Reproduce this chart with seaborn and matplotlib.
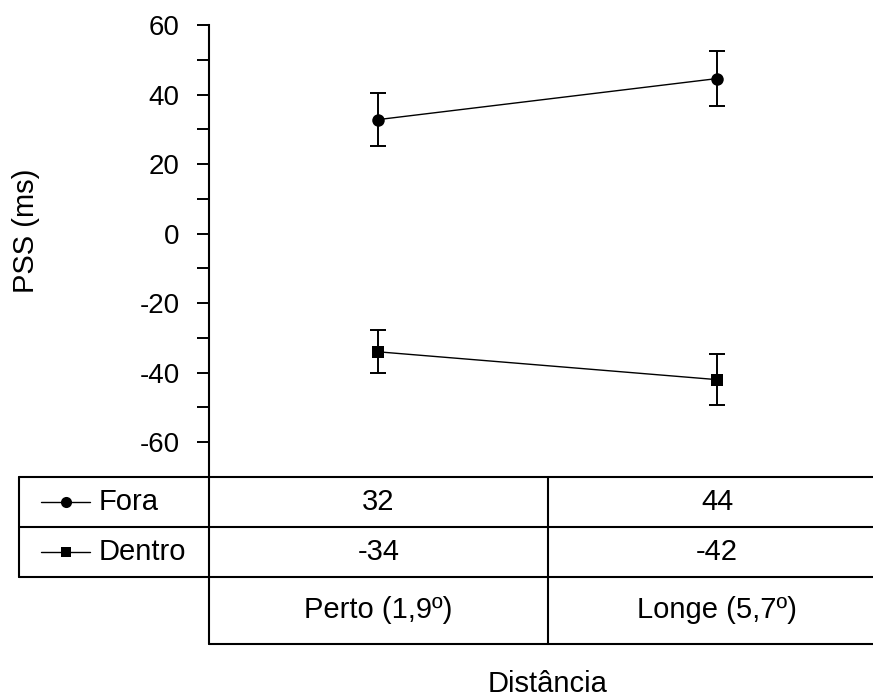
import numpy as np
import pandas as pd
import matplotlib
matplotlib.use("Agg")
import matplotlib.pyplot as plt
import seaborn as sns
from matplotlib.lines import Line2D
from matplotlib.transforms import blended_transform_factory

# --- 数据 ---
distancias = ["Perto (1,9º)", "Longe (5,7º)"]
condicoes = ["Fora", "Dentro"]
fora_media = [32.8, 44.6]
fora_erro = [7.6, 7.9]
dentro_media = [-34.0, -42.0]
dentro_erro = [6.2, 7.3]
tabela_fora = ["32", "44"]
tabela_dentro = ["-34", "-42"]
y_ticks = [-60, -40, -20, 0, 20, 40, 60]

sns.set_style("white")
plt.rcParams["font.family"] = ["Liberation Sans", "DejaVu Sans"]
plt.rcParams["axes.unicode_minus"] = False
plt.rcParams["text.color"] = "black"

W, H = 873, 700
fig = plt.figure(figsize=(W / 100, H / 100), dpi=100)

def fx(px):
    return px / W

def fy(py):
    return 1 - py / H

# eixo principal: de y=25px (60) até y=477px (-70)
ax = fig.add_axes([fx(209), fy(477), fx(873) - fx(209), fy(25) - fy(477)])

df = pd.DataFrame({
    "pos": [0, 1, 0, 1],
    "pss": fora_media + dentro_media,
    "erro": fora_erro + dentro_erro,
    "cond": ["Fora"] * 2 + ["Dentro"] * 2,
})

sns.lineplot(data=df, x="pos", y="pss", style="cond", style_order=condicoes,
             markers={"Fora": "o", "Dentro": "s"}, dashes=False, color="black",
             linewidth=1.0, markersize=9, markeredgewidth=0, legend=False, ax=ax)
ax.errorbar(df["pos"], df["pss"], yerr=df["erro"], fmt="none", ecolor="black",
            elinewidth=1.4, capsize=5.5, capthick=1.4)

ax.set_xlim(-0.5, 1.46)
ax.set_ylim(-70, 60)
ax.set_yticks(y_ticks)
ax.set_yticks(np.arange(-50, 60, 20), minor=True)
ax.tick_params(axis="y", which="both", direction="out", length=9, width=1.4,
               left=True, labelsize=20, pad=12, colors="black")
ax.set_xticks([])
ax.set_xlabel("")
ax.set_ylabel("")
for s in ["top", "right", "bottom"]:
    ax.spines[s].set_visible(False)
ax.spines["left"].set_linewidth(1.5)
ax.spines["left"].set_color("black")
ax.patch.set_alpha(0)

fig.text(fx(26), fy(231), "PSS (ms)", rotation=90, ha="center", va="center", fontsize=21)
fig.text(fx(548), fy(684), "Distância", ha="center", va="center", fontsize=21)

# --- tabela abaixo do gráfico ---
lw = 1.5
trans = blended_transform_factory(ax.transData, fig.transFigure)
linhas_y = [477, 527, 577, 644]
for py in linhas_y[:3]:
    fig.add_artist(Line2D([fx(19), 1], [fy(py), fy(py)], color="black", lw=lw))
fig.add_artist(Line2D([fx(209), 1], [fy(644), fy(644)], color="black", lw=lw))
fig.add_artist(Line2D([fx(19), fx(19)], [fy(477), fy(577)], color="black", lw=lw))
fig.add_artist(Line2D([fx(209), fx(209)], [fy(477), fy(644)], color="black", lw=lw))
fig.add_artist(Line2D([0.5, 0.5], [fy(477), fy(644)], color="black", lw=lw, transform=trans))

centros_y = [502, 552, 610]
for i in range(len(distancias)):
    fig.text(i, fy(centros_y[0]), tabela_fora[i], transform=trans, ha="center", va="center", fontsize=21)
    fig.text(i, fy(centros_y[1]), tabela_dentro[i], transform=trans, ha="center", va="center", fontsize=21)
    fig.text(i, fy(centros_y[2]), distancias[i], transform=trans, ha="center", va="center", fontsize=21)

# legenda dentro da tabela
for cond, mk, ms, cy in [("Fora", "o", 8, centros_y[0]), ("Dentro", "s", 7, centros_y[1])]:
    fig.add_artist(Line2D([fx(41), fx(90)], [fy(cy), fy(cy)], color="black", lw=1.0))
    fig.add_artist(Line2D([fx(66)], [fy(cy)], marker=mk, markersize=ms, color="black",
                          markeredgewidth=0, linestyle="none"))
    fig.text(fx(99), fy(cy), cond, ha="left", va="center", fontsize=21)

fig.savefig("out.png", dpi=100)
